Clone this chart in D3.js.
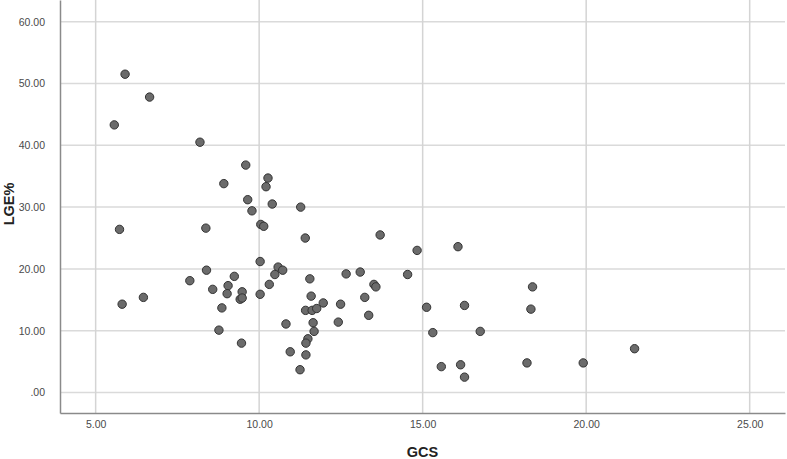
<!DOCTYPE html>
<html>
<head>
<meta charset="utf-8">
<script src="https://cdn.jsdelivr.net/npm/d3@7"></script>
<style>
  body { margin: 0; background: #fff; }
  svg text { font-family: "Liberation Sans", Arial, sans-serif; }
</style>
</head>
<body>
<div id="output"></div>
<script>
// GCS (x) values
const gcs = [
  5.90, 6.65, 5.57, 8.19, 9.59, 8.92, 10.27, 10.21, 9.65, 10.40,
  9.78, 11.27, 5.73, 8.37, 10.05, 10.14, 11.41, 10.03, 8.39, 10.58,
  10.72, 10.48, 9.24, 7.88, 11.55, 9.05, 10.31, 8.58, 9.02, 9.48,
  9.42, 9.48, 10.03, 11.59, 11.96, 11.42, 11.62, 11.76, 8.86, 11.65,
  10.82, 11.68, 8.77, 11.49, 11.43, 9.46, 10.95, 11.43, 11.25, 5.81,
  6.46, 13.70, 14.83, 16.08, 12.66, 13.09, 14.54, 13.51, 13.57, 18.36,
  13.23, 12.49, 13.35, 12.42, 15.12, 16.28, 18.31, 15.31, 16.76, 21.48,
  15.57, 16.16, 16.28, 18.19, 19.91
];
// LGE% (y) values
const lge = [
  51.5, 47.8, 43.3, 40.5, 36.8, 33.8, 34.7, 33.3, 31.2, 30.5,
  29.4, 30.0, 26.4, 26.6, 27.2, 26.9, 25.0, 21.2, 19.8, 20.3,
  19.8, 19.1, 18.8, 18.1, 18.4, 17.3, 17.5, 16.7, 16.0, 16.3,
  15.1, 15.3, 15.9, 15.6, 14.5, 13.3, 13.3, 13.6, 13.7, 11.3,
  11.1, 9.9, 10.1, 8.7, 8.0, 8.0, 6.6, 6.1, 3.7, 14.3,
  15.4, 25.5, 23.0, 23.6, 19.2, 19.5, 19.1, 17.5, 17.1, 17.1,
  15.4, 14.3, 12.5, 11.4, 13.8, 14.1, 13.5, 9.7, 9.9, 7.1,
  4.2, 4.5, 2.5, 4.8, 4.8
];
const xTicks = [5, 10, 15, 20, 25];
const yTicks = [0, 10, 20, 30, 40, 50, 60];

const W = 787, H = 459;
const margin = { top: 0, right: 2, bottom: 46, left: 60 };
const width = W - margin.left - margin.right;
const height = H - margin.top - margin.bottom;

const svg = d3.select("#output").append("svg")
  .attr("width", W)
  .attr("height", H);

const g = svg.append("g")
  .attr("transform", `translate(${margin.left},${margin.top})`);

const x = d3.scaleLinear().domain([3.91, 26.08]).range([0, width]);
const y = d3.scaleLinear().domain([-3.3, 63.5]).range([height, 0]);

const fmt = v => v === 0 ? ".00" : d3.format(".2f")(v);

// gridlines
g.append("g")
  .selectAll("line")
  .data(yTicks)
  .join("line")
  .attr("x1", 0).attr("x2", width)
  .attr("y1", d => y(d)).attr("y2", d => y(d))
  .attr("stroke", "#dadada").attr("stroke-width", 1.5);

g.append("g")
  .selectAll("line")
  .data(xTicks)
  .join("line")
  .attr("y1", 0).attr("y2", height)
  .attr("x1", d => x(d)).attr("x2", d => x(d))
  .attr("stroke", "#d4d4d4").attr("stroke-width", 1.5);

// axes (labels only, no tick marks)
const xAxis = g.append("g")
  .attr("transform", `translate(0,${height})`)
  .call(d3.axisBottom(x).tickValues(xTicks).tickFormat(fmt).tickSize(0).tickPadding(8));
const yAxis = g.append("g")
  .call(d3.axisLeft(y).tickValues(yTicks).tickFormat(fmt).tickSize(0).tickPadding(15));

[xAxis, yAxis].forEach(a => {
  a.select(".domain").attr("stroke", "#8a8a8a").attr("stroke-width", 1.5);
  a.selectAll("text")
    .attr("fill", "#4a4a4a")
    .style("font-size", "10.5px")
    .style("font-family", "'Liberation Sans', Arial, sans-serif");
});

// points
g.append("g")
  .selectAll("circle")
  .data(gcs.map((v, i) => [v, lge[i]]))
  .join("circle")
  .attr("cx", d => x(d[0]))
  .attr("cy", d => y(d[1]))
  .attr("r", 4.2)
  .attr("fill", "#6b6b6b")
  .attr("stroke", "#333")
  .attr("stroke-width", 1);

// axis titles
svg.append("text")
  .attr("x", margin.left + width / 2)
  .attr("y", 457)
  .attr("text-anchor", "middle")
  .style("font-weight", "bold")
  .style("font-size", "14.5px")
  .attr("fill", "#222")
  .text("GCS");

svg.append("text")
  .attr("transform", "translate(14,204) rotate(-90)")
  .attr("text-anchor", "middle")
  .style("font-weight", "bold")
  .style("font-size", "14.5px")
  .attr("fill", "#222")
  .text("LGE%");
</script>
</body>
</html>
